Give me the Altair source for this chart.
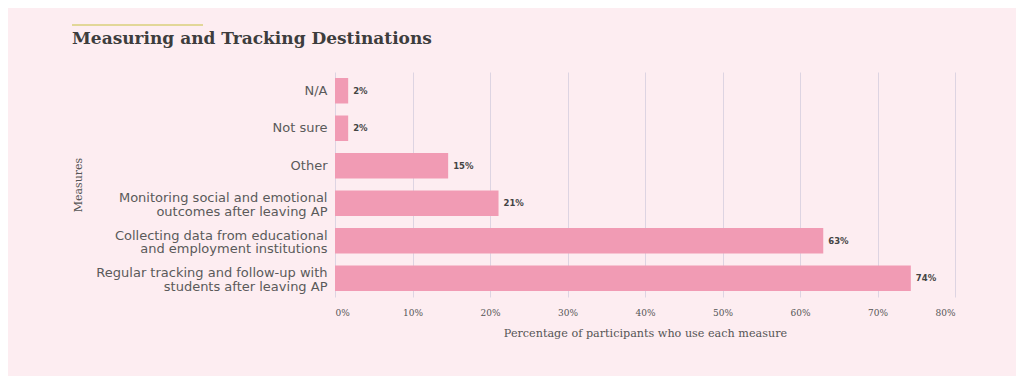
import altair as alt
import pandas as pd

categories = [
    "N/A",
    "Not sure",
    "Other",
    "Monitoring social and emotional\noutcomes after leaving AP",
    "Collecting data from educational\nand employment institutions",
    "Regular tracking and follow-up with\nstudents after leaving AP",
]
values = [1.7, 1.7, 14.6, 21.1, 63.0, 74.3]
labels = ["2%", "2%", "15%", "21%", "63%", "74%"]
x_ticks = [0, 10, 20, 30, 40, 50, 60, 70, 80]
title_text = "Measuring and Tracking Destinations"

df = pd.DataFrame({"measure": categories, "value": values, "label": labels})

BG = "#fdedf1"
BAR = "#f19bb4"
GRID = "#ddd4e2"

y_enc = alt.Y(
    "measure:N",
    sort=categories,
    title="Measures",
    scale=alt.Scale(paddingInner=0.32, paddingOuter=0.16),
    axis=alt.Axis(
        labelExpr="split(datum.label, '\\n')",
        labelFont="DejaVu Sans",
        labelFontSize=13,
        labelColor="#5a5a5a",
        labelLineHeight=13.5,
        labelPadding=8,
        labelOffset={"condition": {"test": "indexof(datum.label, '\\n') >= 0", "value": -5}, "value": 0},
        ticks=False,
        domain=False,
        titleFont="DejaVu Serif",
        titleFontWeight="normal",
        titleFontSize=11,
        titleColor="#555555",
        titlePadding=52,
        labelLimit=300,
    ),
)

x_enc = alt.X(
    "value:Q",
    title="Percentage of participants who use each measure",
    scale=alt.Scale(domain=[0, 80], nice=False),
    axis=alt.Axis(
        values=x_ticks,
        labelExpr="datum.value + '%'",
        labelFont="DejaVu Serif",
        labelFontSize=9,
        labelColor="#555555",
        labelPadding=11,
        ticks=False,
        domain=False,
        grid=True,
        gridColor=GRID,
        gridWidth=1,
        titleFont="DejaVu Serif",
        titleFontWeight="normal",
        titleFontSize=11.2,
        titleColor="#555555",
        titlePadding=10,
    ),
)

bars = alt.Chart(df).mark_bar(color=BAR).encode(x=x_enc, y=y_enc)

text = alt.Chart(df).mark_text(
    align="left", dx=5, font="DejaVu Sans", fontSize=8.5, fontWeight="bold", color="#444444"
).encode(x="value:Q", y=alt.Y("measure:N", sort=categories), text="label:N")

accent = alt.Chart(pd.DataFrame({"a": [0]})).mark_rule(color="#d8cf7a", strokeWidth=1.5).encode(
    x=alt.value(-263), x2=alt.value(-132), y=alt.value(-47)
)

title_mark = alt.Chart(pd.DataFrame({"t": [title_text]})).mark_text(
    align="left", baseline="alphabetic", font="DejaVu Serif", fontSize=17,
    fontWeight="bold", color="#3d3d3d"
).encode(x=alt.value(-263), y=alt.value(-28), text="t:N")

chart = (
    alt.layer(bars, text, accent, title_mark)
    .properties(
        width=620,
        height=225,
        background=BG,
        padding={"left": 327, "top": 64, "right": 61, "bottom": 79},
        autosize=alt.AutoSizeParams(type="none"),
    )
    .configure_view(stroke=None)
)

chart.save("out.html", embed_options={"renderer": "svg", "actions": False})
